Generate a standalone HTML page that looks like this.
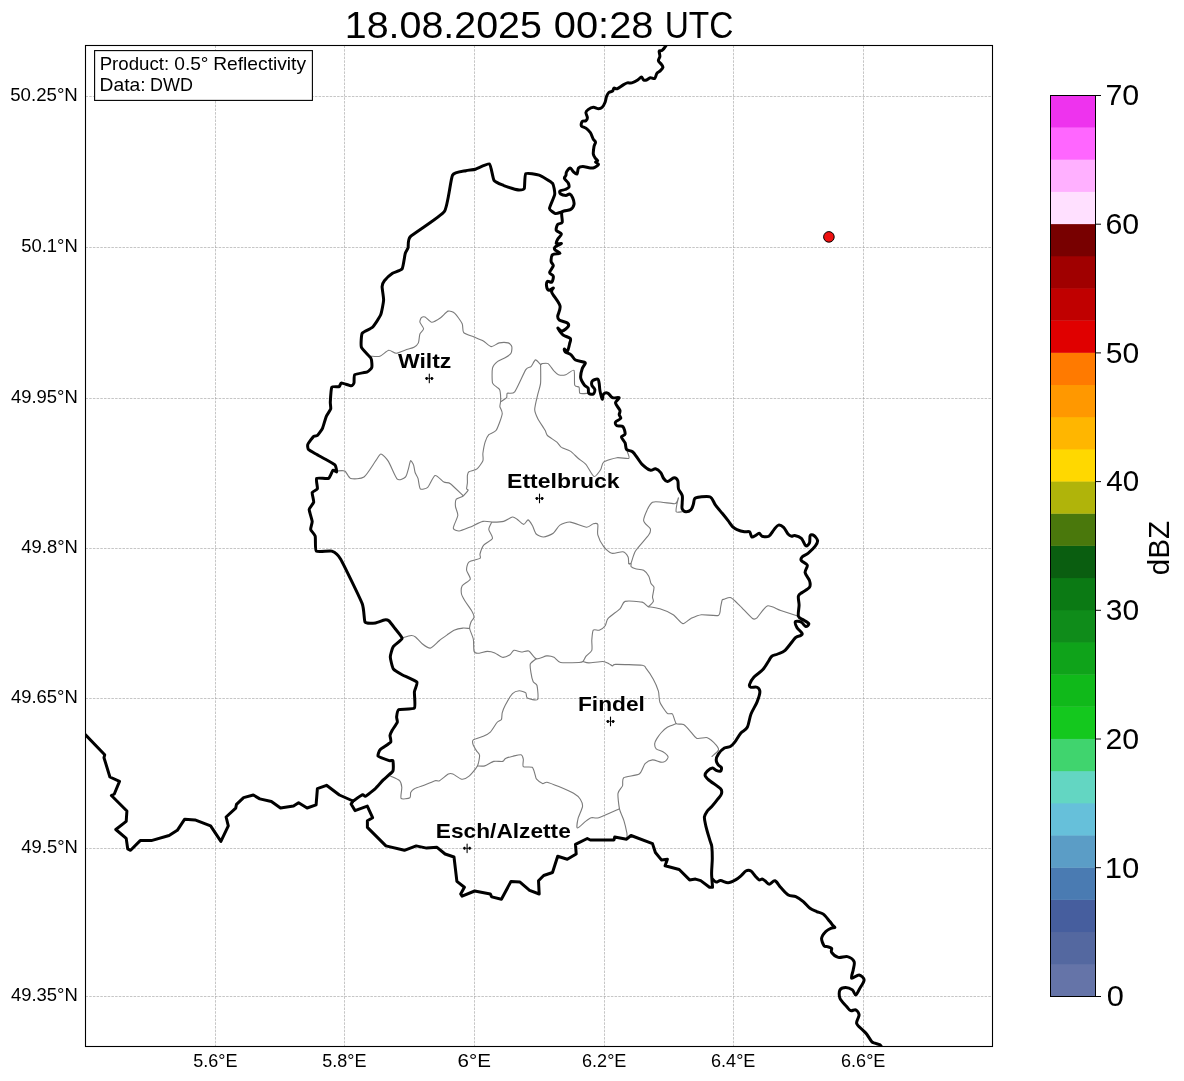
<!DOCTYPE html>
<html><head><meta charset="utf-8"><style>
html,body{margin:0;padding:0;background:#fff;width:1184px;height:1081px;overflow:hidden}
svg{display:block;position:absolute;left:0;top:0}
.wrap{position:absolute;left:0;top:0;width:1184px;height:1081px;will-change:transform}
text{font-family:"Liberation Sans",sans-serif;fill:#000}
</style></head><body>
<div class="wrap">
<svg width="1184" height="1081" viewBox="0 0 1184 1081">
<rect width="1184" height="1081" fill="#fff"/>
<text x="344.75" y="37.70" font-size="36.80" textLength="197.13" lengthAdjust="spacingAndGlyphs">18.08.2025</text>
<text x="553.81" y="37.70" font-size="36.80" textLength="99.69" lengthAdjust="spacingAndGlyphs">00:28</text>
<text x="664.71" y="37.70" font-size="36.80" textLength="68.74" lengthAdjust="spacingAndGlyphs">UTC</text>
<g stroke="#a0a0a0" stroke-width="0.6" stroke-dasharray="2.5 1.2" fill="none">
<line x1="215.5" y1="45.5" x2="215.5" y2="1046.5" />
<line x1="344.5" y1="45.5" x2="344.5" y2="1046.5" />
<line x1="474.5" y1="45.5" x2="474.5" y2="1046.5" />
<line x1="604.5" y1="45.5" x2="604.5" y2="1046.5" />
<line x1="733.5" y1="45.5" x2="733.5" y2="1046.5" />
<line x1="863.5" y1="45.5" x2="863.5" y2="1046.5" />
<line x1="85.5" y1="96.5" x2="992.5" y2="96.5" />
<line x1="85.5" y1="247.5" x2="992.5" y2="247.5" />
<line x1="85.5" y1="398.5" x2="992.5" y2="398.5" />
<line x1="85.5" y1="548.5" x2="992.5" y2="548.5" />
<line x1="85.5" y1="698.5" x2="992.5" y2="698.5" />
<line x1="85.5" y1="848.5" x2="992.5" y2="848.5" />
<line x1="85.5" y1="996.5" x2="992.5" y2="996.5" />
</g>
<svg x="85.5" y="45.5" width="907" height="1001" viewBox="85.5 45.5 907 1001" overflow="hidden">
<g fill="none" stroke="#7a7a7a" stroke-width="1.1" stroke-linejoin="round" stroke-linecap="round">
<path d="M371.0,356.2 C372.0,356.2 377.8,356.9 379.9,356.2 C382.0,355.5 386.9,350.6 388.8,350.3 C390.7,350.0 394.1,353.4 396.2,353.3 C398.3,353.2 404.5,350.3 406.6,349.6 C408.7,348.9 412.6,348.1 414.0,347.3 C415.4,346.5 417.7,344.5 418.4,342.9 C419.1,341.3 419.3,335.6 419.9,334.0 C420.5,332.4 423.6,330.2 423.6,328.8 C423.6,327.4 420.2,323.5 419.9,322.2 C419.6,320.9 420.8,318.3 421.4,317.7 C422.0,317.1 423.9,316.5 425.1,317.0 C426.3,317.5 429.9,322.1 431.7,322.2 C433.5,322.3 438.7,319.0 440.6,317.7 C442.5,316.4 446.4,311.6 448.1,311.1 C449.8,310.6 453.2,311.8 454.8,313.3 C456.4,314.8 461.2,321.4 462.2,323.7 C463.2,326.0 462.3,331.0 463.7,332.6 C465.1,334.2 471.8,336.1 474.0,337.0 C476.2,337.9 480.9,339.6 482.9,340.7 C484.9,341.8 489.2,346.3 491.1,346.6 C493.0,346.9 497.2,343.3 499.2,342.9 C501.2,342.5 506.6,342.5 508.1,342.9 C509.6,343.3 511.5,345.4 511.8,346.6 C512.1,347.8 511.8,352.0 511.0,353.3 C510.2,354.6 506.7,356.8 505.1,357.7 C503.5,358.6 499.2,360.2 497.7,361.4 C496.2,362.6 493.1,365.6 492.5,368.1 C491.9,370.6 492.0,380.7 492.5,382.9 C493.0,385.1 496.1,386.4 497.0,387.3 C497.9,388.2 499.5,388.7 499.9,390.3 C500.3,391.9 500.7,398.8 500.7,400.7 C500.7,402.6 499.7,405.0 499.9,406.6 C500.1,408.2 502.6,411.2 502.2,414.0 C501.8,416.8 497.8,427.9 496.2,430.3 C494.6,432.7 490.1,433.3 488.8,434.7 C487.5,436.1 485.8,439.9 485.1,442.1 C484.4,444.3 483.2,451.1 482.9,453.3 C482.6,455.5 483.6,458.9 482.9,460.7 C482.2,462.5 478.6,467.6 477.0,468.9 C475.4,470.2 470.0,471.0 468.9,471.8 C467.8,472.6 467.6,474.2 467.4,475.5 C467.2,476.8 467.5,481.3 467.4,482.9 C467.3,484.5 466.5,487.9 466.6,488.8 C466.7,489.7 468.5,489.4 468.1,490.3 C467.7,491.2 464.3,495.2 462.9,496.2 C461.5,497.2 457.2,498.0 456.3,499.2 C455.4,500.4 455.3,504.7 455.5,506.6 C455.7,508.5 458.1,513.0 457.8,515.5 C457.5,518.0 453.1,526.3 453.3,528.1 C453.5,529.9 457.3,531.1 459.2,531.0 C461.1,530.9 466.8,528.4 469.6,527.3 C472.4,526.2 480.1,522.0 482.9,521.4 C485.7,520.8 490.9,522.1 493.3,522.1 C495.7,522.1 501.4,522.0 503.6,521.4 C505.8,520.8 510.9,517.3 512.5,517.0 C514.1,516.7 515.7,518.3 517.0,519.2 C518.3,520.1 522.3,524.3 523.6,524.4 C524.9,524.5 527.1,519.7 528.1,519.9 C529.1,520.1 531.6,524.2 532.5,525.8 C533.4,527.4 534.9,532.7 536.2,534.0 C537.5,535.3 541.6,537.1 543.6,537.0 C545.6,536.9 551.3,534.7 553.2,533.3 C555.1,531.9 557.9,526.4 559.9,525.1 C561.9,523.8 567.2,521.8 570.3,522.1 C573.4,522.4 583.8,527.1 586.5,527.3 C589.2,527.5 592.0,524.0 593.3,523.7 C594.6,523.4 597.3,523.1 597.8,524.4 C598.3,525.7 597.1,532.2 597.8,534.8 C598.5,537.4 602.1,544.4 603.7,546.6 C605.3,548.8 609.6,552.7 611.8,553.3 C614.0,553.9 621.0,551.4 622.9,551.8 C624.8,552.2 627.4,555.6 628.1,557.0 C628.8,558.4 628.4,562.8 628.8,563.6 C629.1,564.4 630.8,563.2 631.1,563.6 C631.4,564.0 630.6,566.0 631.1,566.6 C631.6,567.2 634.0,568.4 635.5,568.8 C637.0,569.2 642.0,569.4 643.6,570.3 C645.2,571.2 647.9,574.6 648.8,576.2 C649.7,577.8 650.4,582.3 651.0,583.6 C651.6,584.9 653.8,585.7 654.0,587.3 C654.2,588.9 652.6,595.3 652.5,596.9 C652.4,598.5 653.8,600.3 653.3,601.4 C652.8,602.5 649.4,606.5 648.1,606.6 C646.8,606.7 644.9,602.7 642.2,602.1 C639.5,601.5 627.7,600.6 625.1,601.4 C622.5,602.2 622.0,606.8 620.0,608.8 C618.0,610.8 609.8,616.4 608.1,618.4 C606.4,620.4 606.2,624.4 605.2,625.8 C604.2,627.2 600.6,629.7 599.2,630.2 C597.8,630.7 594.2,629.1 593.3,630.2 C592.4,631.3 592.0,637.6 591.8,640.0 C591.6,642.4 592.5,648.5 591.8,650.4 C591.1,652.3 586.9,655.0 585.9,656.3 C584.9,657.6 583.8,660.8 583.0,661.5 C582.2,662.2 581.7,662.4 579.1,662.5 C576.5,662.6 563.5,663.1 560.6,662.5 C557.7,661.9 555.6,658.1 554.0,657.3 C552.4,656.5 548.7,655.7 546.6,655.9 C544.5,656.1 538.3,659.4 536.2,658.8 C534.1,658.2 530.5,651.8 528.8,651.0 C527.1,650.2 523.1,652.1 521.4,652.0 C519.7,651.9 515.4,649.9 514.0,650.3 C512.6,650.7 511.0,654.3 509.6,655.1 C508.2,655.9 503.9,657.6 502.2,657.3 C500.5,657.0 496.5,653.6 494.8,652.9 C493.1,652.2 489.4,651.4 487.4,651.4 C485.4,651.4 479.3,653.3 477.7,653.3 C476.1,653.3 474.5,652.7 474.0,651.0 C473.5,649.3 473.8,641.6 473.3,639.0 C472.8,636.4 469.9,630.5 469.6,628.5 C469.3,626.5 470.6,623.1 471.1,621.8 C471.6,620.5 473.9,618.7 474.0,617.4 C474.1,616.1 472.9,612.9 471.8,611.0 C470.8,609.1 466.2,603.0 465.0,601.0 C463.8,599.0 461.8,595.8 461.5,594.0 C461.2,592.2 461.2,587.5 462.2,585.8 C463.2,584.1 469.8,580.9 470.3,579.1 C470.8,577.3 466.8,572.3 466.6,570.3 C466.4,568.3 467.3,563.5 468.9,562.1 C470.5,560.7 478.7,559.3 480.0,558.4 C481.3,557.5 479.6,555.6 480.0,554.0 C480.4,552.4 482.2,546.9 483.7,545.1 C485.2,543.3 491.9,540.2 492.5,538.4 C493.1,536.6 488.9,531.4 488.8,529.5 C488.7,527.6 491.4,523.0 491.8,522.1"/>
<path d="M336.6,471.0 C337.6,471.0 343.2,470.1 344.8,471.0 C346.4,471.9 348.5,477.7 350.7,478.4 C352.9,479.1 361.1,479.1 364.0,477.0 C366.9,474.9 373.8,463.4 375.8,460.7 C377.8,458.0 379.5,453.9 381.0,454.0 C382.5,454.1 386.5,458.5 388.4,461.4 C390.3,464.3 395.3,477.4 397.3,479.2 C399.3,481.0 404.2,478.2 405.5,477.0 C406.8,475.8 407.8,470.7 408.4,468.8 C409.0,466.9 410.0,461.1 410.6,460.7 C411.2,460.3 413.1,463.7 413.6,465.1 C414.1,466.5 414.6,470.9 415.1,472.5 C415.6,474.1 417.4,476.5 418.0,478.4 C418.6,480.3 419.2,487.8 420.3,488.8 C421.4,489.8 426.0,488.9 427.7,487.3 C429.4,485.7 433.2,476.1 435.1,475.5 C437.0,474.9 442.1,481.1 443.9,482.1 C445.7,483.1 448.2,482.1 450.4,483.7 C452.6,485.3 461.4,494.1 462.9,495.5"/>
<path d="M501.4,401.4 C502.0,401.0 505.9,398.6 506.6,397.7 C507.3,396.8 506.4,394.0 507.3,393.3 C508.2,392.6 512.5,394.6 514.7,391.8 C516.9,389.0 523.9,372.5 525.8,369.6 C527.7,366.7 529.9,367.7 531.0,366.6 C532.1,365.5 534.4,360.2 535.5,359.9 C536.6,359.6 539.8,364.0 540.6,364.4 C541.4,364.8 541.2,363.7 542.1,363.6 C543.0,363.5 546.7,362.7 548.1,363.6 C549.5,364.5 552.8,369.7 554.0,371.0 C555.2,372.3 557.0,374.3 558.4,374.7 C559.8,375.1 564.0,375.2 565.8,374.7 C567.6,374.2 573.0,369.1 574.0,370.3 C575.0,371.5 574.1,383.1 574.7,385.1 C575.3,387.1 578.5,386.3 579.1,387.3 C579.7,388.3 578.9,392.6 579.9,393.3 C580.9,394.0 587.1,393.3 588.0,393.3"/>
<path d="M540.6,364.4 C540.6,366.6 540.9,379.4 540.6,382.9 C540.3,386.4 538.4,391.6 537.7,394.7 C537.0,397.8 534.7,406.7 534.7,409.5 C534.7,412.3 536.5,416.0 537.7,418.4 C538.9,420.8 544.0,428.3 545.1,430.3 C546.2,432.3 546.0,434.1 547.4,435.5 C548.8,436.9 555.3,440.7 556.9,442.1 C558.5,443.5 559.8,446.3 561.4,447.4 C563.0,448.4 568.3,449.8 570.3,451.1 C572.3,452.4 576.6,457.0 578.4,458.5 C580.2,460.0 584.1,462.2 585.9,464.3 C587.7,466.4 592.3,475.9 594.0,476.5 C595.7,477.1 599.6,471.2 600.7,469.5 C601.8,467.8 601.7,463.5 603.6,462.1 C605.5,460.7 614.1,458.1 617.0,457.7 C619.9,457.3 627.6,459.1 628.8,458.4 C630.0,457.7 627.5,452.5 627.3,451.7"/>
<path d="M628.8,563.6 C629.1,563.5 630.3,564.4 631.1,562.9 C631.9,561.4 633.4,554.3 635.5,551.0 C637.6,547.7 647.1,537.4 648.8,534.8 C650.5,532.2 650.9,530.5 650.3,528.8 C649.7,527.1 643.3,523.1 643.6,520.0 C643.9,516.9 648.9,504.1 652.5,502.2 C656.1,500.3 671.7,504.2 674.7,503.7 C677.7,503.2 678.1,497.8 678.4,497.8 C678.7,497.8 677.3,502.1 677.0,503.7 C676.7,505.3 675.6,510.9 676.2,511.8 C676.8,512.7 681.4,511.8 682.1,511.8"/>
<path d="M648.1,606.6 C649.5,606.9 657.0,607.9 659.9,608.8 C662.8,609.7 670.5,613.0 673.2,614.7 C675.9,616.4 680.8,623.2 682.9,623.6 C685.0,624.0 688.8,619.4 691.0,618.4 C693.2,617.4 698.2,615.1 701.4,614.7 C704.6,614.4 716.2,616.3 718.4,615.4 C720.6,614.5 720.2,609.1 720.6,607.3 C721.0,605.5 721.8,600.9 722.2,600.0 C722.6,599.1 723.3,599.5 724.3,599.2 C725.3,598.9 729.2,596.9 731.0,597.7 C732.8,598.5 737.5,603.4 740.0,605.8 C742.5,608.2 750.5,617.1 752.5,618.5 C754.5,619.9 755.3,619.3 757.0,617.8 C758.7,616.3 764.5,606.8 767.3,605.9 C770.1,605.0 777.1,609.2 780.7,610.4 C784.3,611.6 796.3,615.6 798.4,616.3"/>
<path d="M583.0,661.5 C583.7,661.7 586.6,662.9 588.9,662.9 C591.2,662.9 600.6,661.4 602.9,661.5 C605.2,661.6 607.8,663.2 608.9,663.7 C610.0,664.2 611.8,665.8 612.6,665.9 C613.4,666.0 612.0,664.5 615.5,664.4 C619.0,664.3 638.7,664.8 642.2,665.2 C645.7,665.6 644.6,666.5 645.9,668.1 C647.2,669.7 651.8,676.5 653.3,679.2 C654.8,681.9 657.6,688.4 658.4,691.1 C659.2,693.8 658.9,699.6 659.9,702.2 C660.9,704.8 665.8,711.9 667.3,713.3 C668.8,714.7 671.5,712.8 672.5,714.0 C673.5,715.2 674.9,722.4 676.2,723.6 C677.5,724.8 682.0,723.6 683.6,724.4 C685.2,725.2 687.9,728.7 689.5,730.3 C691.1,731.9 694.8,737.5 696.9,738.4 C699.0,739.3 705.0,736.9 707.3,737.7 C709.6,738.5 714.9,743.6 716.2,745.1 C717.5,746.6 718.9,749.0 718.4,750.3 C717.9,751.6 712.7,755.8 712.0,756.5"/>
<path d="M676.2,723.6 C675.2,724.0 669.0,726.3 667.3,727.3 C665.6,728.3 662.6,731.2 661.4,732.5 C660.2,733.8 657.8,737.1 657.0,738.4 C656.2,739.7 654.8,742.4 654.7,743.6 C654.6,744.8 655.2,747.8 656.2,748.8 C657.2,749.8 661.5,750.9 662.9,751.8 C664.3,752.7 667.8,755.8 668.1,756.9 C668.4,758.0 666.0,760.8 665.1,761.4 C664.2,762.0 662.2,762.3 660.7,762.1 C659.2,761.9 654.3,759.7 652.5,759.9 C650.7,760.1 646.7,762.0 645.1,763.6 C643.5,765.2 641.7,772.4 639.2,774.0 C636.7,775.6 625.6,776.3 623.7,777.7 C621.8,779.1 623.2,784.1 622.5,785.9 C621.8,787.7 618.4,790.6 618.0,793.3 C617.6,796.0 618.8,805.6 619.5,808.8 C620.2,812.0 623.0,817.8 623.9,820.6 C624.8,823.4 626.5,831.1 626.9,833.2 C627.2,835.3 626.9,837.8 626.9,838.4"/>
<path d="M402.9,637.7 C403.9,637.4 409.6,635.6 411.1,635.5 C412.6,635.4 414.2,636.0 415.5,637.0 C416.8,638.0 420.5,642.4 422.2,643.7 C423.9,645.0 428.3,648.5 430.3,648.1 C432.3,647.8 437.2,642.3 439.2,640.7 C441.2,639.1 445.6,636.0 447.3,634.8 C449.0,633.6 452.2,631.1 454.0,630.3 C455.8,629.5 461.1,628.3 462.9,628.1 C464.7,627.9 468.8,628.5 469.6,628.5"/>
<path d="M536.2,658.8 C535.5,659.4 530.9,662.4 530.3,664.0 C529.7,665.6 530.7,670.8 531.0,672.9 C531.3,675.0 532.5,680.3 533.2,681.8 C533.9,683.3 536.5,683.4 537.0,685.5 C537.5,687.6 538.7,698.0 537.6,699.5 C536.5,701.0 528.7,698.9 527.3,698.1 C525.9,697.3 526.7,693.8 525.8,692.9 C524.9,692.0 520.8,690.6 519.2,690.7 C517.6,690.8 514.1,691.9 512.5,693.6 C510.9,695.3 506.3,703.2 505.1,705.5 C503.9,707.8 502.6,711.3 502.2,712.9 C501.8,714.5 502.0,718.4 501.4,719.5 C500.8,720.6 498.3,721.0 497.0,722.5 C495.7,724.0 491.9,730.5 490.3,732.1 C488.7,733.7 485.3,735.4 483.3,736.3 C481.3,737.2 474.5,739.0 473.3,739.9 C472.1,740.8 472.6,743.1 473.0,744.4 C473.4,745.7 475.9,749.8 476.7,751.1 C477.5,752.4 479.5,753.8 479.6,755.5 C479.7,757.2 478.6,763.6 477.4,766.0 C476.2,768.4 470.9,774.7 469.1,776.2 C467.3,777.7 463.6,779.5 461.7,779.2 C459.8,778.9 454.5,774.6 452.9,774.0 C451.3,773.4 450.0,773.2 448.4,774.0 C446.8,774.8 441.1,779.9 439.5,780.7 C437.9,781.5 436.8,780.2 435.1,780.7 C433.4,781.2 427.1,784.2 424.7,785.1 C422.3,786.0 416.0,787.9 414.4,788.8 C412.8,789.7 411.2,791.5 410.7,792.5 C410.2,793.5 411.0,797.0 409.9,797.7 C408.8,798.4 402.0,799.6 401.1,798.4 C400.2,797.2 402.0,789.4 401.8,787.3 C401.6,785.2 400.9,782.0 399.6,780.7 C398.3,779.4 391.7,776.7 390.7,776.2"/>
<path d="M477.4,766.0 C478.3,766.0 482.9,766.4 484.8,765.9 C486.7,765.4 491.6,761.9 493.7,761.4 C495.8,760.9 501.2,761.7 502.6,761.4 C504.0,761.1 504.3,759.1 505.5,758.5 C506.7,757.9 511.1,756.6 512.9,756.2 C514.7,755.8 519.9,754.4 521.1,754.8 C522.3,755.1 523.0,757.8 523.3,759.2 C523.6,760.6 522.3,765.7 523.3,766.6 C524.3,767.5 530.8,766.4 532.2,767.3 C533.6,768.2 534.6,773.3 535.1,774.7 C535.6,776.1 535.7,778.2 536.6,779.2 C537.5,780.2 541.3,783.2 542.5,783.6 C543.7,784.0 545.1,781.9 547.0,782.2 C548.9,782.6 555.7,785.3 558.8,786.6 C561.9,787.9 571.1,791.8 573.6,793.3 C576.1,794.8 579.3,797.6 580.3,799.2 C581.3,800.8 582.8,804.4 582.5,806.6 C582.2,808.8 578.7,815.9 578.1,818.4 C577.5,820.9 576.4,827.6 577.3,828.0 C578.2,828.4 583.9,822.6 585.5,821.4 C587.1,820.2 589.8,818.1 591.4,817.7 C593.0,817.3 595.5,818.7 598.8,817.7 C602.1,816.7 617.1,809.8 619.5,808.8"/>
</g>
<g fill="none" stroke="#000" stroke-width="3.0" stroke-linejoin="round" stroke-linecap="round">
<path d="M667.0,43.0 C666.8,43.4 666.5,44.8 665.8,45.9 C665.1,47.0 663.1,49.6 662.1,50.4 C661.1,51.2 659.5,50.2 659.2,51.1 C658.9,52.0 660.0,54.9 659.9,56.3 C659.8,57.7 658.2,59.5 658.4,60.7 C658.6,61.9 660.7,63.4 661.4,64.4 C662.1,65.4 663.1,66.4 662.9,67.4 C662.7,68.4 660.8,70.2 659.9,71.1 C659.0,72.0 657.7,72.2 656.9,73.3 C656.1,74.4 655.7,77.8 654.7,78.5 C653.7,79.2 651.5,77.5 650.3,77.7 C649.1,77.9 647.6,79.7 646.6,80.0 C645.6,80.3 644.4,80.5 643.6,80.0 C642.8,79.5 642.3,77.0 641.4,77.0 C640.5,77.0 639.1,79.1 637.7,80.0 C636.3,80.9 633.4,82.5 631.8,82.9 C630.2,83.3 628.6,82.6 627.3,82.9 C626.0,83.2 624.4,84.2 622.9,85.1 C621.4,86.0 618.3,88.3 617.0,88.8 C615.7,89.2 614.7,87.8 614.0,88.1 C613.3,88.4 613.3,90.4 612.5,91.1 C611.7,91.8 609.7,91.7 608.8,92.5 C607.9,93.3 607.2,94.7 606.6,96.2 C606.0,97.7 605.8,100.5 605.1,102.2 C604.4,103.9 603.2,106.3 602.2,107.3 C601.2,108.3 599.8,108.8 598.5,108.8 C597.2,108.8 594.9,107.2 593.3,107.3 C591.7,107.4 589.2,108.8 588.1,109.6 C587.0,110.4 586.0,111.3 585.9,112.5 C585.8,113.7 587.4,116.5 587.4,117.7 C587.4,118.9 586.7,120.1 585.9,120.7 C585.1,121.3 582.9,120.6 582.2,121.4 C581.5,122.2 580.8,124.9 581.4,125.9 C582.0,126.9 584.6,127.1 585.9,128.1 C587.2,129.1 589.2,130.8 590.3,132.5 C591.4,134.2 592.5,137.8 593.3,139.2 C594.1,140.6 595.4,141.0 595.5,142.1 C595.6,143.2 594.3,144.8 594.0,146.6 C593.7,148.4 593.1,152.2 593.3,154.0 C593.5,155.8 594.8,157.4 595.5,158.4 C596.2,159.4 597.7,160.0 597.7,160.6 C597.7,161.2 595.4,161.5 595.5,162.1 C595.6,162.7 598.6,163.5 598.5,164.3 C598.4,165.1 596.0,166.7 594.8,167.3 C593.6,167.9 592.1,168.1 590.3,168.0 C588.5,167.9 584.7,166.6 582.9,166.6 C581.1,166.6 579.4,166.9 578.5,168.0 C577.6,169.1 577.8,173.4 577.0,174.0 C576.2,174.6 574.3,172.6 573.3,171.7 C572.3,170.8 571.3,168.0 570.3,168.0 C569.3,168.0 567.3,170.6 566.6,171.7 C565.9,172.8 566.2,174.4 565.9,175.4 C565.6,176.4 564.1,177.3 564.4,178.4 C564.7,179.5 567.4,181.5 568.1,182.8 C568.8,184.1 569.3,186.3 568.9,187.3 C568.5,188.3 566.5,188.9 565.2,189.5 C563.9,190.1 560.7,190.3 560.0,191.0 C559.3,191.7 559.8,193.3 560.7,194.0 C561.6,194.7 564.6,195.4 565.9,195.4 C567.2,195.4 568.6,193.7 569.6,194.0 C570.6,194.3 571.9,196.0 572.6,197.6 C573.3,199.2 574.3,202.6 574.0,204.4 C573.7,206.2 572.1,208.5 570.3,209.6 C568.5,210.7 563.2,210.1 562.0,212.0 C560.8,213.9 562.8,220.3 562.2,222.2 C561.6,224.1 558.6,223.2 557.7,224.4 C556.8,225.6 555.7,228.9 556.3,230.3 C556.9,231.7 561.2,232.7 561.4,234.0 C561.6,235.3 558.5,237.8 557.7,239.2 C556.9,240.6 555.7,242.9 556.3,243.6 C556.9,244.3 561.5,243.2 561.4,243.6 C561.3,244.0 556.5,245.7 555.5,246.6 C554.5,247.5 554.1,248.6 554.8,249.6 C555.5,250.6 560.3,252.5 560.0,253.3 C559.7,254.1 553.9,253.5 552.6,254.7 C551.3,255.9 551.0,259.7 551.1,261.4 C551.2,263.1 553.5,264.1 553.3,265.8 C553.1,267.5 549.6,270.9 549.6,272.5 C549.6,274.1 553.0,274.8 553.3,276.2 C553.6,277.6 552.7,281.3 551.8,282.1 C550.9,282.9 548.2,280.7 547.4,281.4 C546.6,282.1 546.4,285.3 546.6,286.6 C546.8,287.9 547.9,290.1 548.9,290.3 C549.9,290.5 552.9,287.7 553.3,288.0 C553.7,288.3 550.8,289.8 551.8,292.5 C552.8,295.2 559.1,302.2 560.0,305.8 C560.9,309.4 557.8,314.1 557.7,316.2 C557.6,318.3 557.7,319.0 559.2,320.0 C560.7,321.0 566.1,322.0 567.4,323.0 C568.7,324.0 568.9,325.5 568.1,326.7 C567.3,327.9 563.7,330.9 562.2,331.1 C560.7,331.3 557.7,327.5 557.8,328.1 C557.9,328.7 561.0,333.2 562.9,334.8 C564.8,336.4 569.3,337.2 570.3,338.5 C571.3,339.8 570.0,341.8 569.6,343.7 C569.2,345.6 568.2,350.3 567.4,351.1 C566.6,351.9 564.7,348.8 564.4,348.9 C564.1,349.0 564.2,350.9 565.2,351.8 C566.2,352.7 569.6,353.6 571.1,354.8 C572.6,356.0 573.5,358.9 575.5,360.0 C577.5,361.1 583.0,361.6 584.4,362.2 C585.8,362.8 585.4,362.7 585.1,363.7 C584.8,364.7 582.9,366.7 582.2,368.8 C581.5,370.9 580.4,375.3 580.7,377.7 C581.0,380.1 583.3,383.5 584.4,385.1 C585.5,386.7 587.4,386.9 588.1,388.1 C588.8,389.3 588.0,392.4 588.8,393.3 C589.6,394.2 592.4,394.6 593.3,394.0 C594.2,393.4 595.0,390.9 594.8,389.6 C594.6,388.3 592.1,386.4 591.8,385.1 C591.5,383.8 591.6,381.6 592.5,380.7 C593.4,379.8 596.7,378.8 597.7,379.2 C598.7,379.6 598.9,381.8 599.2,383.6 C599.5,385.4 599.5,388.7 600.0,391.0 C600.5,393.3 601.7,398.8 602.2,399.2 C602.7,399.6 602.7,394.9 603.6,394.0 C604.5,393.1 606.8,392.7 608.1,393.3 C609.4,393.9 610.8,397.0 612.5,397.7 C614.2,398.4 618.8,396.9 619.2,397.7 C619.7,398.5 615.4,401.0 615.5,402.9 C615.6,404.8 619.3,408.5 619.9,410.3 C620.5,412.1 619.1,413.5 619.2,414.7 C619.3,415.9 621.3,417.3 620.7,418.4 C620.1,419.5 616.1,421.0 615.5,422.1 C614.9,423.2 615.9,425.1 617.0,425.8 C618.1,426.5 621.7,425.4 622.9,426.6 C624.1,427.8 625.3,432.5 625.1,434.0 C624.9,435.5 621.4,435.6 621.4,436.9 C621.4,438.2 624.3,441.0 625.1,442.9 C625.9,444.8 625.5,448.2 626.6,449.5 C627.7,450.8 630.8,450.4 632.5,451.7 C634.2,453.0 636.3,456.5 637.7,458.4 C639.1,460.3 640.2,462.5 642.1,464.3 C644.0,466.1 648.3,469.5 650.3,470.2 C652.3,470.9 653.9,468.4 655.5,468.8 C657.1,469.2 659.5,471.1 660.7,472.6 C661.9,474.1 662.7,477.2 663.7,478.5 C664.7,479.8 665.8,481.6 667.4,481.5 C669.0,481.4 672.5,477.9 674.1,477.8 C675.7,477.7 677.1,479.0 677.8,480.7 C678.5,482.4 677.8,486.7 678.5,488.9 C679.2,491.1 681.6,493.4 682.2,495.5 C682.8,497.6 682.2,500.9 682.2,502.9 C682.2,504.9 681.6,507.5 682.2,508.8 C682.8,510.1 684.6,511.7 685.9,511.8 C687.2,511.9 690.0,510.7 691.1,509.6 C692.2,508.5 692.7,506.1 693.3,504.4 C693.9,502.7 693.8,499.6 694.8,498.5 C695.8,497.4 697.7,497.2 700.0,497.0 C702.3,496.8 708.0,495.8 710.3,497.0 C712.6,498.2 713.7,502.7 715.5,505.1 C717.3,507.5 720.3,511.0 722.2,513.3 C724.1,515.6 726.6,518.7 728.1,520.7 C729.6,522.7 731.2,525.3 732.5,526.6 C733.8,527.9 735.2,528.8 737.0,529.6 C738.8,530.4 742.5,531.5 744.4,531.8 C746.3,532.1 748.4,531.0 749.5,531.8 C750.6,532.6 750.9,536.4 751.8,537.0 C752.7,537.6 754.4,536.1 755.5,535.5 C756.6,534.9 758.2,533.2 759.2,533.3 C760.2,533.4 760.7,535.8 762.1,536.2 C763.5,536.6 767.0,537.2 768.8,536.2 C770.6,535.2 772.6,531.3 774.0,529.6 C775.4,527.9 777.0,525.4 778.4,525.1 C779.8,524.8 782.2,526.0 783.6,527.3 C785.0,528.6 786.8,532.7 788.0,534.0 C789.2,535.3 790.7,536.0 791.7,536.2 C792.7,536.4 793.2,535.2 794.7,535.5 C796.2,535.8 799.7,536.9 801.4,538.4 C803.1,539.9 804.6,545.1 805.8,545.8 C807.0,546.5 808.8,544.4 809.5,542.9 C810.2,541.4 809.5,536.6 810.2,535.5 C810.9,534.4 812.8,534.7 813.9,535.5 C815.0,536.3 817.4,539.2 817.6,540.7 C817.8,542.2 816.8,543.9 815.4,545.8 C814.0,547.7 810.0,551.6 808.0,553.3 C806.0,555.0 803.1,555.8 802.1,556.9 C801.1,558.0 800.6,559.5 801.4,560.7 C802.2,561.9 806.7,563.3 807.3,565.1 C807.9,566.9 804.8,570.2 805.1,572.5 C805.4,574.8 808.8,578.4 809.5,580.6 C810.2,582.8 810.6,585.5 809.5,587.3 C808.4,589.1 803.8,591.2 802.1,592.5 C800.4,593.8 798.9,594.3 798.4,596.2 C797.9,598.1 799.1,602.1 799.1,605.1 C799.1,608.1 797.7,614.1 798.4,616.3 C799.1,618.5 802.0,618.9 803.6,620.0 C805.2,621.1 808.5,622.7 808.8,623.7 C809.1,624.7 806.9,626.8 805.8,626.6 C804.7,626.4 802.9,623.0 801.4,622.2 C799.9,621.4 796.2,620.7 795.5,621.5 C794.8,622.3 795.9,625.6 796.9,627.4 C797.9,629.2 801.5,632.1 802.1,633.3 C802.7,634.5 801.6,634.8 800.6,635.5 C799.6,636.2 797.8,635.5 795.5,637.7 C793.2,639.9 787.8,647.9 785.1,650.3 C782.4,652.7 779.7,653.1 777.7,654.0 C775.7,654.9 773.1,655.2 771.8,656.2 C770.5,657.2 770.1,658.7 768.8,660.7 C767.5,662.7 765.1,667.2 762.9,669.6 C760.7,672.0 756.0,674.8 754.0,677.0 C752.0,679.2 750.1,682.9 749.6,684.4 C749.1,685.9 749.9,686.9 751.0,687.3 C752.1,687.7 755.7,686.6 757.0,687.3 C758.3,688.0 759.9,689.6 759.9,691.8 C759.9,694.0 758.3,698.8 757.0,702.1 C755.7,705.4 752.5,710.2 751.0,714.0 C749.5,717.8 748.8,724.4 747.3,727.3 C745.8,730.2 742.6,731.0 740.7,733.2 C738.8,735.4 736.4,740.1 734.8,742.1 C733.2,744.1 731.9,745.6 730.3,746.5 C728.7,747.4 726.2,746.9 724.4,748.0 C722.6,749.1 719.7,752.1 718.5,753.9 C717.3,755.7 716.2,758.3 716.2,760.0 C716.2,761.7 717.6,764.1 718.4,765.2 C719.2,766.3 721.1,766.5 721.4,767.4 C721.7,768.3 721.4,770.7 720.6,771.1 C719.8,771.5 717.4,770.8 716.2,770.3 C715.0,769.8 713.8,768.0 712.5,768.1 C711.2,768.2 708.4,770.0 707.3,771.1 C706.2,772.2 704.9,774.2 705.1,775.5 C705.3,776.8 706.5,778.0 708.8,780.0 C711.1,782.0 718.7,786.7 720.6,788.8 C722.5,790.9 721.8,792.4 721.4,794.0 C721.0,795.6 719.1,797.3 717.7,799.2 C716.3,801.1 713.4,804.8 711.8,806.6 C710.2,808.4 708.4,809.4 707.3,811.0 C706.2,812.6 704.6,814.8 704.4,817.0 C704.2,819.2 705.0,822.2 705.8,825.8 C706.6,829.4 709.1,837.6 710.0,840.7 C710.9,843.8 711.5,843.9 711.8,846.6 C712.1,849.3 712.3,854.4 712.3,858.4 C712.3,862.4 711.6,869.0 711.6,873.2 C711.6,877.4 712.4,884.5 712.5,886.5"/>
<path d="M712.5,879.1 C713.1,879.6 715.0,881.9 716.2,882.1 C717.4,882.3 718.8,880.5 720.6,880.6 C722.4,880.7 725.9,882.9 728.1,882.8 C730.3,882.7 733.5,881.0 735.5,879.9 C737.5,878.8 739.9,876.7 741.4,875.4 C742.9,874.1 744.4,871.7 745.8,871.0 C747.2,870.3 749.6,870.2 751.0,871.0 C752.4,871.8 754.2,874.9 755.4,876.2 C756.6,877.5 758.1,879.5 759.1,879.9 C760.1,880.3 761.2,879.0 762.1,879.1 C763.0,879.2 763.9,880.0 765.0,880.8 C766.1,881.6 767.7,884.2 769.2,884.2 C770.7,884.2 773.3,880.3 775.0,880.8 C776.7,881.3 778.8,885.4 780.8,887.5 C782.8,889.6 786.0,893.6 788.3,895.0 C790.5,896.4 793.5,895.6 795.8,896.6 C798.0,897.6 801.2,899.8 803.3,901.6 C805.4,903.4 808.0,906.8 810.0,908.3 C812.0,909.8 814.6,910.7 816.6,911.6 C818.6,912.5 821.3,912.6 823.3,914.1 C825.3,915.6 828.5,920.0 829.9,921.6 C831.3,923.2 831.6,924.0 832.4,924.9 C833.1,925.8 835.1,926.9 834.9,927.4 C834.7,927.9 832.2,927.7 830.8,928.3 C829.4,928.9 827.2,930.1 825.8,931.6 C824.4,933.1 821.9,936.2 821.6,938.3 C821.3,940.4 823.2,944.6 824.1,945.8 C825.0,947.0 826.3,946.2 827.4,946.6 C828.5,947.0 831.0,947.4 831.6,948.3 C832.2,949.2 830.6,951.0 831.6,952.4 C832.6,953.8 835.9,956.8 838.3,957.4 C840.7,958.0 845.0,956.0 847.4,956.6 C849.8,957.2 853.2,959.6 854.1,961.6 C855.0,963.6 853.6,967.4 853.2,969.9 C852.8,972.4 850.7,977.5 851.6,978.2 C852.5,979.0 857.2,974.6 859.1,974.9 C861.0,975.2 864.0,977.9 864.1,979.9 C864.2,981.9 861.2,986.0 859.9,988.2 C858.6,990.5 856.8,994.6 855.7,994.9 C854.6,995.2 853.9,991.0 852.4,989.9 C850.9,988.8 847.6,987.4 845.7,987.4 C843.8,987.4 840.8,988.3 839.9,989.9 C839.0,991.5 838.9,995.7 839.9,998.2 C840.9,1000.7 845.0,1004.6 846.6,1006.5 C848.2,1008.4 849.3,1010.2 850.7,1010.7 C852.1,1011.2 854.4,1009.3 855.7,1009.9 C857.0,1010.5 859.0,1012.9 859.1,1014.9 C859.2,1016.9 856.2,1021.1 856.6,1023.2 C857.0,1025.3 860.1,1027.4 861.6,1029.0 C863.1,1030.6 865.1,1032.1 866.6,1034.0 C868.1,1035.9 870.4,1040.1 871.6,1041.5 C872.8,1042.9 873.7,1042.7 874.9,1043.2 C876.1,1043.7 878.7,1043.9 879.9,1044.8 C881.1,1045.7 882.5,1048.4 883.0,1049.0"/>
<path d="M562.0,212.0 C561.5,212.1 556.4,213.9 555.4,213.6 C554.4,213.3 549.6,210.1 549.5,208.5 C549.4,206.9 554.5,196.5 554.7,194.4 C555.0,192.3 553.8,184.9 552.5,183.3 C551.2,181.7 541.3,176.0 539.1,175.2 C536.9,174.4 527.0,172.6 525.8,173.7 C524.6,174.8 524.8,187.1 524.3,188.5 C523.8,189.9 520.2,190.0 519.2,190.0 C518.2,190.0 513.8,188.9 512.5,188.5 C511.2,188.1 505.1,186.2 503.6,185.5 C502.1,184.8 495.2,182.1 494.0,180.3 C492.8,178.5 491.0,165.0 489.5,164.1 C488.0,163.2 477.5,168.6 475.5,169.2 C473.5,169.8 467.8,170.2 465.9,170.7 C464.0,171.2 454.3,171.8 452.5,175.2 C450.7,178.6 447.9,206.3 444.4,211.4 C440.9,216.5 413.4,233.6 410.4,236.6 C407.4,239.6 408.5,246.3 408.1,247.7 C407.7,249.1 405.7,251.8 405.2,253.6 C404.7,255.4 403.2,267.3 402.1,268.9 C401.0,270.5 394.0,272.3 392.5,273.3 C391.0,274.3 385.3,279.6 384.4,280.7 C383.5,281.8 382.2,285.0 382.1,286.6 C382.0,288.2 383.7,297.6 383.6,300.0 C383.5,302.4 381.6,312.5 380.7,314.8 C379.8,317.1 374.0,325.8 372.5,327.3 C371.0,328.8 363.1,331.6 362.2,333.3 C361.3,335.0 360.7,345.2 361.4,347.3 C362.1,349.4 370.1,356.7 371.0,358.4 C371.9,360.1 372.1,366.2 371.8,367.3 C371.5,368.4 368.7,371.2 367.3,371.8 C365.9,372.4 355.9,373.8 354.8,374.7 C353.7,375.6 354.3,382.0 354.0,382.9 C353.7,383.8 352.2,385.8 351.1,385.8 C350.1,385.8 342.4,382.8 341.4,382.9 C340.4,383.0 340.0,386.2 339.2,386.6 C338.4,387.0 332.5,386.0 331.8,387.3 C331.1,388.6 330.4,400.3 330.3,402.1 C330.2,403.9 331.0,407.7 330.7,408.9 C330.4,410.1 327.0,414.7 326.3,416.3 C325.6,417.9 323.3,426.5 322.6,428.1 C321.9,429.7 318.1,434.8 317.4,435.5 C316.7,436.2 314.5,435.6 313.7,436.3 C312.9,437.0 308.2,443.3 307.8,444.4 C307.4,445.5 307.8,448.8 308.5,449.6 C309.2,450.4 314.5,453.2 315.9,454.0 C317.3,454.8 323.9,458.3 325.5,459.2 C327.1,460.1 334.2,464.1 335.1,465.1 C336.0,466.2 336.8,471.4 336.6,471.8 C336.4,472.2 333.6,469.8 332.9,470.3 C332.2,470.9 329.9,477.7 328.5,478.4 C327.1,479.1 317.5,477.5 316.6,478.4 C315.7,479.3 317.8,487.6 317.4,488.8 C317.0,490.0 312.5,491.4 312.2,492.5 C311.9,493.6 313.9,500.7 313.7,502.1 C313.4,503.5 309.3,507.9 309.2,509.5 C309.1,511.1 312.1,519.7 312.2,521.4 C312.3,523.1 310.4,528.3 310.7,529.5 C310.9,530.7 314.7,534.4 315.2,536.2 C315.7,538.0 314.9,549.9 316.3,551.1 C317.7,552.3 329.8,550.4 331.8,551.1 C333.8,551.8 338.2,554.8 340.7,559.2 C343.2,563.6 360.2,598.4 362.2,603.6 C364.2,608.8 364.0,620.5 365.1,622.1 C366.2,623.7 373.9,623.1 375.5,622.9 C377.1,622.7 383.3,620.1 384.4,619.9 C385.5,619.7 387.9,620.0 388.8,620.7 C389.7,621.4 393.6,626.6 394.7,628.1 C395.8,629.6 402.2,636.9 402.1,638.4 C402.0,639.9 394.3,645.1 393.3,646.6 C392.3,648.1 390.3,655.0 390.3,656.9 C390.3,658.8 392.3,667.3 393.3,668.8 C394.3,670.3 400.1,673.6 402.1,674.7 C404.1,675.8 415.9,680.7 416.9,682.1 C417.9,683.5 414.6,689.6 414.4,691.8 C414.2,694.0 415.7,706.6 414.4,708.1 C413.1,709.6 400.3,708.9 398.8,709.6 C397.3,710.3 396.7,716.0 396.6,717.0 C396.5,718.0 397.7,721.1 397.3,722.2 C396.9,723.3 392.8,729.2 392.2,730.3 C391.6,731.4 390.1,734.5 390.0,735.5 C389.9,736.5 391.5,741.0 390.7,742.2 C389.9,743.4 381.4,748.4 380.3,749.6 C379.2,750.8 377.4,755.3 378.1,756.2 C378.8,757.1 388.0,760.3 389.2,760.7 C390.4,761.1 392.6,759.8 392.9,760.7 C393.2,761.6 393.7,769.4 392.9,771.0 C392.1,772.6 384.8,778.4 383.3,779.9 C381.8,781.4 376.6,787.4 375.1,788.8 C373.6,790.2 366.5,795.7 365.5,796.2 C364.5,796.7 363.6,794.3 362.6,794.7 C361.6,795.1 353.8,800.5 353.0,801.0"/>
<path d="M80.0,729.5 L85.5,734.8 L104.7,754.8 L104.0,757.7 L109.9,777.0 L119.5,781.4 L114.3,794.0 L111.4,795.5 L126.9,811.0 L126.2,821.4 L115.8,829.5 L126.2,838.4 L127.7,848.8 L130.6,850.3 L140.2,840.6 L151.3,840.6 L169.1,835.5 L177.3,830.3 L184.7,819.2 L195.0,819.9 L210.6,825.8 L220.9,841.4 L228.3,825.8 L226.1,817.0 L235.7,808.1 L236.5,804.4 L243.6,797.6 L253.3,795.0 L259.8,798.9 L271.4,801.5 L280.5,808.0 L293.5,806.1 L298.6,802.8 L307.1,808.0 L316.1,804.8 L317.4,788.6 L326.5,785.3 L339.4,795.0 L353.0,801.0"/>
<path d="M353.0,801.0 L351.1,804.1 L355.0,810.6 L367.3,806.1 L372.6,817.7 L367.4,820.7 L367.4,827.4 L385.9,845.9 L404.4,850.3 L416.2,845.9 L426.6,848.1 L437.0,847.3 L445.1,854.0 L454.0,857.0 L456.9,881.4 L464.4,887.3 L460.7,894.0 L462.1,896.2 L474.7,891.0 L490.3,894.0 L491.7,896.9 L501.4,899.2 L511.0,881.4 L520.0,882.1 L529.6,890.3 L539.2,894.0 L538.5,880.7 L543.7,875.5 L552.5,872.5 L557.7,856.2 L567.3,859.2 L576.2,854.0 L575.5,844.4 L587.3,838.5 L590.3,840.0 L614.0,840.0 L614.7,837.0 L626.6,839.2 L631.0,835.5 L652.5,843.6 L655.4,852.5 L661.4,859.9 L667.4,859.2 L665.1,865.8 L679.2,869.5 L689.6,879.9 L695.5,879.1 L700.7,880.6 L709.5,887.3 L712.5,887.3"/>
</g>
</svg>
<g id="cities">
<text x="397.94" y="367.80" font-size="19.90" textLength="53.43" lengthAdjust="spacingAndGlyphs" font-weight="bold">Wiltz</text>
<text x="507.05" y="487.80" font-size="19.90" textLength="112.60" lengthAdjust="spacingAndGlyphs" font-weight="bold">Ettelbruck</text>
<text x="577.97" y="710.60" font-size="19.90" textLength="66.91" lengthAdjust="spacingAndGlyphs" font-weight="bold">Findel</text>
<text x="435.87" y="837.50" font-size="19.90" textLength="134.90" lengthAdjust="spacingAndGlyphs" font-weight="bold">Esch/Alzette</text>
</g>
<path d="M425.00,378.40 H433.60" stroke="#000" stroke-width="0.8"/><path d="M429.30,374.10 V382.70" stroke="#000" stroke-width="1.1" stroke-linecap="round"/><rect x="425.70" y="376.90" width="2" height="3" rx="0.7"/><rect x="430.90" y="376.90" width="2" height="3" rx="0.7"/>
<path d="M535.20,498.40 H543.80" stroke="#000" stroke-width="0.8"/><path d="M539.50,494.10 V502.70" stroke="#000" stroke-width="1.1" stroke-linecap="round"/><rect x="535.90" y="496.90" width="2" height="3" rx="0.7"/><rect x="541.10" y="496.90" width="2" height="3" rx="0.7"/>
<path d="M606.20,721.40 H614.80" stroke="#000" stroke-width="0.8"/><path d="M610.50,717.10 V725.70" stroke="#000" stroke-width="1.1" stroke-linecap="round"/><rect x="606.90" y="719.90" width="2" height="3" rx="0.7"/><rect x="612.10" y="719.90" width="2" height="3" rx="0.7"/>
<path d="M462.80,848.30 H471.40" stroke="#000" stroke-width="0.8"/><path d="M467.10,844.00 V852.60" stroke="#000" stroke-width="1.1" stroke-linecap="round"/><rect x="463.50" y="846.80" width="2" height="3" rx="0.7"/><rect x="468.70" y="846.80" width="2" height="3" rx="0.7"/>
<circle cx="828.9" cy="236.9" r="5.3" fill="#ee1111" stroke="#000" stroke-width="1"/>
<rect x="85.5" y="45.5" width="907" height="1001" fill="none" stroke="#000" stroke-width="1.1"/>
<rect x="94.6" y="50.6" width="217.8" height="49.8" fill="#fff" stroke="#000" stroke-width="1.1"/>
<text x="99.66" y="69.80" font-size="17.80" textLength="69.50" lengthAdjust="spacingAndGlyphs">Product:</text>
<text x="174.23" y="69.80" font-size="17.80" textLength="34.32" lengthAdjust="spacingAndGlyphs">0.5°</text>
<text x="213.22" y="69.80" font-size="17.80" textLength="92.83" lengthAdjust="spacingAndGlyphs">Reflectivity</text>
<text x="99.61" y="90.70" font-size="17.80" textLength="46.03" lengthAdjust="spacingAndGlyphs">Data:</text>
<text x="150.12" y="90.70" font-size="17.80" textLength="42.85" lengthAdjust="spacingAndGlyphs">DWD</text>
<text x="10.25" y="101.25" font-size="18.30" textLength="67.58" lengthAdjust="spacingAndGlyphs">50.25°N</text>
<text x="21.26" y="252.25" font-size="18.30" textLength="56.53" lengthAdjust="spacingAndGlyphs">50.1°N</text>
<text x="10.99" y="403.25" font-size="18.30" textLength="66.83" lengthAdjust="spacingAndGlyphs">49.95°N</text>
<text x="21.29" y="553.25" font-size="18.30" textLength="56.51" lengthAdjust="spacingAndGlyphs">49.8°N</text>
<text x="10.99" y="703.25" font-size="18.30" textLength="66.83" lengthAdjust="spacingAndGlyphs">49.65°N</text>
<text x="21.29" y="853.25" font-size="18.30" textLength="56.51" lengthAdjust="spacingAndGlyphs">49.5°N</text>
<text x="10.99" y="1001.25" font-size="18.30" textLength="66.83" lengthAdjust="spacingAndGlyphs">49.35°N</text>
<text x="193.23" y="1066.90" font-size="18.30" textLength="44.18" lengthAdjust="spacingAndGlyphs">5.6°E</text>
<text x="322.23" y="1066.90" font-size="18.30" textLength="44.18" lengthAdjust="spacingAndGlyphs">5.8°E</text>
<text x="457.52" y="1066.90" font-size="18.30" textLength="33.42" lengthAdjust="spacingAndGlyphs">6°E</text>
<text x="582.05" y="1066.90" font-size="18.30" textLength="44.36" lengthAdjust="spacingAndGlyphs">6.2°E</text>
<text x="711.05" y="1066.90" font-size="18.30" textLength="44.36" lengthAdjust="spacingAndGlyphs">6.4°E</text>
<text x="841.05" y="1066.90" font-size="18.30" textLength="44.36" lengthAdjust="spacingAndGlyphs">6.6°E</text>
<rect x="1050.5" y="963.82" width="45" height="32.58" fill="#6574a8"/>
<rect x="1050.5" y="931.64" width="45" height="32.58" fill="#5468a0"/>
<rect x="1050.5" y="899.46" width="45" height="32.58" fill="#465e9e"/>
<rect x="1050.5" y="867.29" width="45" height="32.58" fill="#4a7bb2"/>
<rect x="1050.5" y="835.11" width="45" height="32.58" fill="#5b9dc6"/>
<rect x="1050.5" y="802.93" width="45" height="32.58" fill="#66c0da"/>
<rect x="1050.5" y="770.75" width="45" height="32.58" fill="#63d6c2"/>
<rect x="1050.5" y="738.57" width="45" height="32.58" fill="#40d46e"/>
<rect x="1050.5" y="706.39" width="45" height="32.58" fill="#14c81e"/>
<rect x="1050.5" y="674.21" width="45" height="32.58" fill="#10b91a"/>
<rect x="1050.5" y="642.04" width="45" height="32.58" fill="#0fa31a"/>
<rect x="1050.5" y="609.86" width="45" height="32.58" fill="#0f8c1a"/>
<rect x="1050.5" y="577.68" width="45" height="32.58" fill="#0b7a14"/>
<rect x="1050.5" y="545.50" width="45" height="32.58" fill="#0a5e10"/>
<rect x="1050.5" y="513.32" width="45" height="32.58" fill="#4a780c"/>
<rect x="1050.5" y="481.14" width="45" height="32.58" fill="#b0b40a"/>
<rect x="1050.5" y="448.96" width="45" height="32.58" fill="#ffd800"/>
<rect x="1050.5" y="416.79" width="45" height="32.58" fill="#ffb600"/>
<rect x="1050.5" y="384.61" width="45" height="32.58" fill="#ff9800"/>
<rect x="1050.5" y="352.43" width="45" height="32.58" fill="#ff7a00"/>
<rect x="1050.5" y="320.25" width="45" height="32.58" fill="#e00000"/>
<rect x="1050.5" y="288.07" width="45" height="32.58" fill="#c00000"/>
<rect x="1050.5" y="255.89" width="45" height="32.58" fill="#a00000"/>
<rect x="1050.5" y="223.71" width="45" height="32.58" fill="#780000"/>
<rect x="1050.5" y="191.54" width="45" height="32.58" fill="#ffe0ff"/>
<rect x="1050.5" y="159.36" width="45" height="32.58" fill="#ffb0ff"/>
<rect x="1050.5" y="127.18" width="45" height="32.58" fill="#ff66ff"/>
<rect x="1050.5" y="95.00" width="45" height="32.58" fill="#ee33ee"/>
<rect x="1050.5" y="95.5" width="45" height="901" fill="none" stroke="#000" stroke-width="1"/>
<g stroke="#000" stroke-width="1">
<line x1="1095.5" y1="95.5" x2="1101" y2="95.5"/>
<line x1="1095.5" y1="224.2" x2="1101" y2="224.2"/>
<line x1="1095.5" y1="352.9" x2="1101" y2="352.9"/>
<line x1="1095.5" y1="481.6" x2="1101" y2="481.6"/>
<line x1="1095.5" y1="610.3" x2="1101" y2="610.3"/>
<line x1="1095.5" y1="739.0" x2="1101" y2="739.0"/>
<line x1="1095.5" y1="867.7" x2="1101" y2="867.7"/>
<line x1="1095.5" y1="996.5" x2="1101" y2="996.5"/>
</g>
<text x="1105.40" y="105.30" font-size="29.30" textLength="33.81" lengthAdjust="spacingAndGlyphs">70</text>
<text x="1105.48" y="234.00" font-size="29.30" textLength="33.72" lengthAdjust="spacingAndGlyphs">60</text>
<text x="1105.80" y="362.70" font-size="29.30" textLength="33.40" lengthAdjust="spacingAndGlyphs">50</text>
<text x="1106.34" y="491.40" font-size="29.30" textLength="32.84" lengthAdjust="spacingAndGlyphs">40</text>
<text x="1105.88" y="620.10" font-size="29.30" textLength="33.32" lengthAdjust="spacingAndGlyphs">30</text>
<text x="1105.48" y="748.80" font-size="29.30" textLength="33.72" lengthAdjust="spacingAndGlyphs">20</text>
<text x="1104.67" y="877.50" font-size="29.30" textLength="34.57" lengthAdjust="spacingAndGlyphs">10</text>
<text x="1106.67" y="1006.30" font-size="29.30" textLength="17.12" lengthAdjust="spacingAndGlyphs">0</text>
<text transform="translate(1168.9,548) rotate(-90)" text-anchor="middle" font-size="29.6">dBZ</text>
</svg>
</div>
</body></html>
